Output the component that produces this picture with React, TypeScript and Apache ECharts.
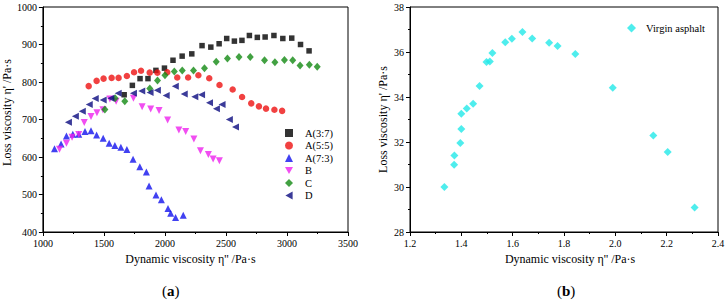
import React, { useEffect, useRef } from "react";
import * as echarts from "echarts";

// ---- Data ----
const a37X = [1666, 1733, 1796, 1861, 1926, 1996, 2066, 2141, 2220, 2304, 2376, 2444, 2506, 2569, 2631, 2692, 2757, 2821, 2893, 2966, 3039, 3111, 3181];
const a37Y = [766, 791, 809, 809, 831, 837, 858, 869, 875, 897, 893, 902, 916, 909, 911, 924, 919, 920, 924, 916, 917, 900, 883];

const a55X = [1375, 1440, 1497, 1563, 1620, 1688, 1747, 1804, 1875, 1938, 2019, 2101, 2190, 2274, 2363, 2447, 2555, 2632, 2707, 2770, 2828, 2897, 2960];
const a55Y = [789, 803, 809, 811, 811, 816, 826, 830, 825, 825, 826, 812, 812, 818, 810, 792, 780, 760, 743, 735, 729, 726, 723];

const a73X = [1095, 1149, 1193, 1245, 1294, 1345, 1394, 1440, 1494, 1543, 1590, 1639, 1688, 1739, 1794, 1848, 1870, 1927, 1971, 2025, 2047, 2087, 2150];
const a73Y = [622, 635, 656, 661, 661, 668, 670, 659, 650, 637, 631, 626, 620, 594, 574, 560, 523, 499, 486, 463, 450, 439, 445];

const bX = [1136, 1193, 1239, 1294, 1339, 1394, 1443, 1492, 1549, 1600, 1742, 1813, 1883, 1952, 2022, 2114, 2170, 2237, 2291, 2356, 2395, 2446];
const bY = [621, 637, 653, 660, 692, 708, 718, 726, 755, 749, 757, 734, 728, 724, 699, 672, 668, 648, 617, 607, 595, 590];

const cX = [1508, 1592, 1671, 1876, 1939, 2000, 2077, 2142, 2234, 2324, 2420, 2512, 2607, 2699, 2816, 2901, 2979, 3047, 3107, 3183, 3248];
const cY = [727, 757, 749, 783, 804, 818, 828, 831, 831, 837, 854, 863, 867, 867, 858, 853, 859, 858, 844, 846, 841];

const dX = [1209, 1266, 1323, 1380, 1429, 1494, 1557, 1617, 1742, 1810, 1878, 1938, 2010, 2085, 2158, 2245, 2300, 2365, 2422, 2468, 2528, 2578];
const dY = [693, 709, 722, 740, 756, 752, 757, 770, 770, 776, 772, 778, 764, 789, 768, 761, 766, 745, 729, 740, 700, 680];

const virginX = [1.334, 1.372, 1.373, 1.396, 1.400, 1.400, 1.421, 1.446, 1.471, 1.498, 1.511, 1.521, 1.571, 1.597, 1.638, 1.676, 1.742, 1.775, 1.844, 1.990, 2.148, 2.204, 2.309];
const virginY = [30.00, 30.99, 31.40, 31.96, 32.58, 33.26, 33.49, 33.70, 34.49, 35.56, 35.58, 35.96, 36.43, 36.59, 36.89, 36.60, 36.41, 36.27, 35.91, 34.41, 32.29, 31.56, 29.09];

const seriesNames = ["A(3:7)", "A(5:5)", "A(7:3)", "B", "C", "D"];
const xTitle = "Dynamic viscosity η'' /Pa·s";
const yTitle = "Loss viscosity η' /Pa·s";
const virginName = "Virgin asphalt";

const FONT = "'Liberation Serif', 'Times New Roman', serif";

const zip = (xs: number[], ys: number[]) => xs.map((x, i) => [x, ys[i]]);

export default function App() {
  const ref = useRef<HTMLDivElement>(null);

  useEffect(() => {
    if (!ref.current) return;
    const chart = echarts.init(ref.current, null, { renderer: "svg" });

    const labelStyle = { color: "#000", fontFamily: FONT, fontSize: 10, fontWeight: "normal", margin: 6 };
    const nameStyle = { color: "#000", fontFamily: FONT, fontSize: 12, fontWeight: "normal" };
    const axisCommon = {
      axisLine: { show: true, lineStyle: { color: "#000", width: 1 } },
      axisTick: { show: true, length: 4, lineStyle: { color: "#000" } },
      minorTick: { show: true, splitNumber: 2, length: 2, lineStyle: { color: "#000" } },
      splitLine: { show: false },
      nameLocation: "middle" as const,
    };

    const sym = {
      downTri: "path://M0,0L10,0L5,9Z",
      leftTri: "path://M0,5L9,0L9,10Z",
    };

    const leftSeries = [
      { name: seriesNames[0], data: zip(a37X, a37Y), symbol: "rect", symbolSize: 5.5, color: "#000000" },
      { name: seriesNames[1], data: zip(a55X, a55Y), symbol: "circle", symbolSize: 6.5, color: "#ee1111" },
      { name: seriesNames[2], data: zip(a73X, a73Y), symbol: "triangle", symbolSize: 7, color: "#1111ee" },
      { name: seriesNames[3], data: zip(bX, bY), symbol: sym.downTri, symbolSize: 7, color: "#ee22ee" },
      { name: seriesNames[4], data: zip(cX, cY), symbol: "diamond", symbolSize: [7, 8], color: "#138a13" },
      { name: seriesNames[5], data: zip(dX, dY), symbol: sym.leftTri, symbolSize: 7, color: "#0a0a80" },
    ].map((s) => ({
      type: "scatter" as const,
      name: s.name,
      data: s.data,
      symbol: s.symbol,
      symbolSize: s.symbolSize,
      itemStyle: { color: s.color },
      xAxisIndex: 0,
      yAxisIndex: 0,
    }));

    const legendText = { color: "#000", fontFamily: FONT, fontSize: 10.5, fontWeight: "normal", lineHeight: 12, padding: [0, 0, 0, 7] };

    const capRich = {
      n: { fontWeight: "normal", fontFamily: FONT, fontSize: 15, fill: "#000" },
      b: { fontWeight: "bold", fontFamily: FONT, fontSize: 15, fill: "#000" },
    };

    const option: any = {
      animation: false,
      backgroundColor: "#fff",
      textStyle: { fontFamily: FONT, fontWeight: "normal" },
      grid: [
        { left: 42, top: 7, width: 306, height: 225, show: true, borderColor: "#000", borderWidth: 1, backgroundColor: "transparent" },
        { left: 410, top: 7, width: 308, height: 225, show: true, borderColor: "#000", borderWidth: 1, backgroundColor: "transparent" },
      ],
      xAxis: [
        {
          ...axisCommon, type: "value", gridIndex: 0, min: 1000, max: 3500, interval: 500,
          name: xTitle, nameGap: 21,
          nameTextStyle: { ...nameStyle, padding: [0, 10, 0, 0] },
          axisLabel: { ...labelStyle, formatter: (v: number) => String(v) },
        },
        {
          ...axisCommon, type: "value", gridIndex: 1, min: 1.2, max: 2.4, interval: 0.2,
          name: xTitle, nameGap: 21,
          nameTextStyle: { ...nameStyle, padding: [0, 0, 0, 12] },
          axisLabel: { ...labelStyle, formatter: (v: number) => v.toFixed(1) },
        },
      ],
      yAxis: [
        {
          ...axisCommon, type: "value", gridIndex: 0, min: 400, max: 1000, interval: 100,
          name: yTitle, nameGap: 27,
          nameTextStyle: { ...nameStyle, padding: [0, 0, 0, 14] },
          axisLabel: { ...labelStyle, formatter: (v: number) => String(v) },
        },
        {
          ...axisCommon, type: "value", gridIndex: 1, min: 28, max: 38, interval: 2,
          name: yTitle, nameGap: 21,
          nameTextStyle: nameStyle,
          axisLabel: { ...labelStyle, formatter: (v: number) => String(v) },
        },
      ],
      legend: [
        {
          data: seriesNames,
          orient: "vertical",
          left: 280,
          top: 122,
          itemWidth: 8,
          itemHeight: 8,
          itemGap: 0.5,
          textStyle: legendText,
        },
        {
          data: [virginName],
          orient: "vertical",
          left: 622,
          top: 17,
          itemWidth: 9,
          itemHeight: 9,
          textStyle: { ...legendText, padding: [0, 0, 0, 5] },
        },
      ],
      series: [
        ...leftSeries,
        {
          type: "scatter",
          name: virginName,
          data: zip(virginX, virginY),
          symbol: "diamond",
          symbolSize: [8, 8],
          itemStyle: { color: "#22e8e8" },
          xAxisIndex: 1,
          yAxisIndex: 1,
        },
      ],
      graphic: [
        {
          type: "text",
          left: 162,
          top: 283,
          style: {
            text: "{n|(}{b|a}{n|)}",
            rich: capRich,
            fontFamily: FONT,
            fontSize: 15,
            fontWeight: "normal",
            fill: "#000",
          },
        },
        {
          type: "text",
          left: 557,
          top: 283,
          style: {
            text: "{n|(}{b|b}{n|)}",
            rich: capRich,
            fontFamily: FONT,
            fontSize: 15,
            fontWeight: "normal",
            fill: "#000",
          },
        },
      ],
    };

    chart.setOption(option);
    return () => chart.dispose();
  }, []);

  return (
    <div
      ref={ref}
      style={{ position: "fixed", left: 0, top: 0, width: 728, height: 301, background: "#fff" }}
    />
  );
}
